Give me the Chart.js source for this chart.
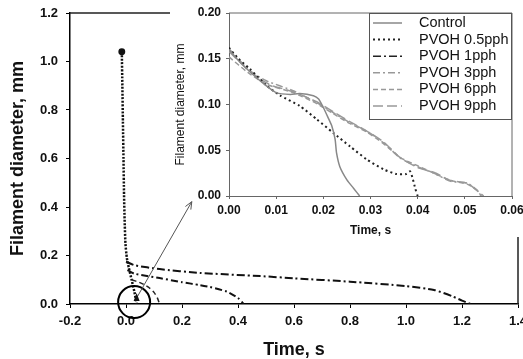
<!DOCTYPE html>
<html>
<head>
<meta charset="utf-8">
<script src="https://cdn.jsdelivr.net/npm/chart.js@4.4.1/dist/chart.umd.min.js"></script>
<style>
    html, body { margin: 0; padding: 0; background: #fff; }
    #wrap { position: relative; width: 523px; height: 359px; }
    #mainBox { position: absolute; left: 0; top: 0; width: 523px; height: 359px; }
    #insetBox { position: absolute; left: 170px; top: 0; width: 353px; height: 237px; }
</style>
</head>
<body>
<div id="wrap">
    <div id="mainBox"><canvas id="mainChart"></canvas></div>
    <div id="insetBox"><canvas id="insetChart"></canvas></div>
</div>
<script>
// Main plot: full thinning curves (time in s, diameter in mm)
const stemTime = [-0.015, -0.013, -0.011, -0.009, -0.007, -0.005, -0.002, 0.003, 0.01, 0.02, 0.03, 0.038];
const stemDiam = [1.04, 0.9, 0.75, 0.6, 0.45, 0.35, 0.25, 0.19, 0.15, 0.1, 0.05, 0.0];

const longTime = [0.0, 0.03, 0.12, 0.264, 0.48, 0.6, 0.8, 1.0, 1.1, 1.165, 1.2, 1.23];
const longDiam = [0.175, 0.16, 0.144, 0.128, 0.115, 0.106, 0.092, 0.074, 0.058, 0.032, 0.014, 0.0];

const midTime = [0.005, 0.03, 0.12, 0.2, 0.264, 0.3, 0.36, 0.4, 0.42];
const midDiam = [0.14, 0.125, 0.107, 0.09, 0.078, 0.07, 0.051, 0.025, 0.0];

const shortTime = [0.02, 0.05, 0.08, 0.1, 0.112, 0.12];
const shortDiam = [0.1, 0.088, 0.07, 0.048, 0.025, 0.0];

// Inset plot: first 0.06 s
const seriesNames = ['Control', 'PVOH 0.5pph', 'PVOH 1pph', 'PVOH 3pph', 'PVOH 6pph', 'PVOH 9pph'];

const controlTime = [0, 0.002, 0.005, 0.008, 0.01, 0.013, 0.015, 0.0179, 0.019, 0.02, 0.021, 0.0218, 0.0225, 0.0228, 0.0235, 0.025, 0.0264, 0.0277];
const controlDiam = [0.16, 0.148, 0.133, 0.12, 0.113, 0.111, 0.112, 0.1096, 0.106, 0.0967, 0.0857, 0.0765, 0.0618, 0.047, 0.032, 0.0176, 0.0085, 0];

const p05Time = [0, 0.002, 0.0044, 0.0079, 0.0108, 0.015, 0.0186, 0.0221, 0.0257, 0.0292, 0.0328, 0.0355, 0.0375, 0.0384, 0.039, 0.0395, 0.04];
const p05Diam = [0.162, 0.15, 0.139, 0.121, 0.11, 0.0985, 0.0838, 0.069, 0.054, 0.04, 0.029, 0.024, 0.024, 0.027, 0.018, 0.008, 0];

const p1Time = [];
const p1Diam = [];

const p3Time = [0, 0.0044, 0.0079, 0.0136, 0.0186, 0.0221, 0.0257, 0.0292, 0.0328, 0.0363, 0.04, 0.0434, 0.047, 0.0505, 0.0526, 0.0533, 0.054];
const p3Diam = [0.161, 0.137, 0.126, 0.115, 0.102, 0.091, 0.08, 0.071, 0.058, 0.0415, 0.032, 0.025, 0.016, 0.014, 0.0066, 0.001, 0];

const p6Time = [0, 0.004, 0.008, 0.0136, 0.0186, 0.0221, 0.0257, 0.0292, 0.0328, 0.0363, 0.04, 0.0434, 0.047, 0.0505, 0.0526, 0.0535];
const p6Diam = [0.152, 0.135, 0.122, 0.113, 0.101, 0.09, 0.079, 0.07, 0.057, 0.042, 0.033, 0.025, 0.017, 0.013, 0.006, 0];

const p9Time = [0, 0.004, 0.0075, 0.0095, 0.0136, 0.0186, 0.0221, 0.0257, 0.0292, 0.0328, 0.0363, 0.04, 0.0434, 0.047, 0.0505, 0.0528, 0.054];
const p9Diam = [0.158, 0.138, 0.125, 0.12, 0.114, 0.103, 0.092, 0.081, 0.071, 0.059, 0.042, 0.031, 0.026, 0.017, 0.014, 0.005, 0];

const mainXTicks = [-0.2, 0.0, 0.2, 0.4, 0.6, 0.8, 1.0, 1.2, 1.4];
const mainYTicks = [0.0, 0.2, 0.4, 0.6, 0.8, 1.0, 1.2];
const insetXTicks = [0, 0.01, 0.02, 0.03, 0.04, 0.05, 0.06];
const insetYTicks = [0, 0.05, 0.10, 0.15, 0.20];

// zip x/y arrays into point objects
function pts(xs, ys) {
    return xs.map((x, i) => ({ x, y: ys[i] }));
}

const FONT = 'Arial, "Liberation Sans", sans-serif';

// Main chart: frame, white area behind the inset, circle and arrow
const mainMarks = {
    id: 'mainMarks',
    afterDatasetsDraw(chart) {
        const { ctx, chartArea: a, scales: { x, y } } = chart;
        ctx.save();
        ctx.strokeStyle = '#222';
        ctx.lineWidth = 1.5;
        ctx.beginPath();
        ctx.moveTo(a.left, a.top);
        ctx.lineTo(a.right, a.top);
        ctx.lineTo(a.right, a.bottom);
        ctx.stroke();

        // blank out the inset area
        const box = document.getElementById('insetBox');
        ctx.fillStyle = '#fff';
        ctx.fillRect(box.offsetLeft, box.offsetTop, box.offsetWidth, box.offsetHeight);

        // circle round the origin region
        ctx.strokeStyle = '#000';
        ctx.lineWidth = 2;
        ctx.beginPath();
        ctx.arc(x.getPixelForValue(0.029), y.getPixelForValue(0.008), 16, 0, Math.PI * 2);
        ctx.stroke();

        // arrow
        const x0 = x.getPixelForValue(0.038), y0 = y.getPixelForValue(0.025);
        const x1 = x.getPixelForValue(0.235), y1 = y.getPixelForValue(0.422);
        ctx.strokeStyle = '#555';
        ctx.lineWidth = 1;
        ctx.beginPath();
        ctx.moveTo(x0, y0);
        ctx.lineTo(x1, y1);
        const ang = Math.atan2(y1 - y0, x1 - x0);
        ctx.moveTo(x1, y1);
        ctx.lineTo(x1 - 8 * Math.cos(ang - 0.4), y1 - 8 * Math.sin(ang - 0.4));
        ctx.moveTo(x1, y1);
        ctx.lineTo(x1 - 8 * Math.cos(ang + 0.4), y1 - 8 * Math.sin(ang + 0.4));
        ctx.stroke();
        ctx.fillStyle = '#111';
        ctx.beginPath();
        ctx.moveTo(x0, y0 - 5);
        ctx.lineTo(x0 - 3, y0 + 3);
        ctx.lineTo(x0 + 3, y0 + 3);
        ctx.closePath();
        ctx.fill();
        ctx.restore();
    }
};

// Inset chart: frame and boxed legend
const insetMarks = {
    id: 'insetMarks',
    afterDatasetsDraw(chart) {
        const { ctx, chartArea: a } = chart;
        ctx.save();
        ctx.strokeStyle = '#666';
        ctx.lineWidth = 1;
        ctx.beginPath();
        ctx.moveTo(a.left, a.top);
        ctx.lineTo(a.right, a.top);
        ctx.lineTo(a.right, a.bottom);
        ctx.stroke();

        const bw = 143, bh = 107;
        const bx = a.right - bw, by = a.top;
        ctx.fillStyle = '#fff';
        ctx.fillRect(bx, by, bw, bh);
        ctx.strokeStyle = '#555';
        ctx.strokeRect(bx + 0.5, by + 0.5, bw - 1, bh - 1);

        ctx.font = '14.5px ' + FONT;
        ctx.textBaseline = 'middle';
        chart.data.datasets.forEach((ds, i) => {
            const ly = by + 10 + i * 16.6;
            ctx.strokeStyle = ds.borderColor;
            ctx.lineWidth = ds.borderWidth;
            ctx.setLineDash(ds.borderDash || []);
            ctx.beginPath();
            ctx.moveTo(bx + 4, ly);
            ctx.lineTo(bx + 33, ly);
            ctx.stroke();
            ctx.setLineDash([]);
            ctx.fillStyle = '#111';
            ctx.fillText(ds.label, bx + 50, ly);
        });
        ctx.restore();
    }
};

function lineSet(label, data, color, width, dash) {
    return {
        label,
        data,
        showLine: true,
        borderColor: color,
        backgroundColor: color,
        borderWidth: width,
        borderDash: dash,
        pointRadius: 0,
        tension: 0.2
    };
}

// fixed scale sizes, no extra label padding
function fixX(h) {
    return scale => { scale.height = h; scale.paddingLeft = 0; scale.paddingRight = 0; };
}
function fixY(w) {
    return scale => { scale.width = w; scale.paddingTop = 0; scale.paddingBottom = 0; };
}

new Chart(document.getElementById('mainChart'), {
    type: 'scatter',
    data: {
        datasets: [
            lineSet('PVOH 1pph', pts(longTime, longDiam), '#111', 2, [8, 3, 2, 3]),
            lineSet('PVOH 3pph', pts(midTime, midDiam), '#111', 2, [7, 3, 2, 3]),
            lineSet('PVOH 6pph', pts(shortTime, shortDiam), '#222', 1.5, [5, 3]),
            Object.assign(lineSet('All samples', pts(stemTime, stemDiam), '#111', 2.5, [2, 1.5]), {
                pointRadius: stemTime.map((t, i) => i === 0 ? 2.2 : 0)
            })
        ]
    },
    options: {
        responsive: true,
        maintainAspectRatio: false,
        animation: false,
        layout: { autoPadding: false, padding: { left: 0, right: 5, top: 13, bottom: 0 } },
        plugins: { legend: { display: false }, tooltip: { enabled: false } },
        scales: {
            x: {
                type: 'linear',
                min: -0.2, max: 1.4,
                afterFit: fixX(55),
                afterBuildTicks(scale) { scale.ticks = mainXTicks.map(v => ({ value: v })); },
                ticks: {
                    padding: 6, color: '#111',
                    font: { family: FONT, size: 13, weight: 'bold' },
                    callback: v => Number(v).toFixed(1)
                },
                grid: { drawOnChartArea: false, drawTicks: true, tickLength: 4, color: '#000' },
                border: { display: true, color: '#000', width: 1.5 },
                title: {
                    display: true, text: 'Time, s', color: '#111',
                    font: { family: FONT, size: 18, weight: 'bold', lineHeight: 1 },
                    padding: { top: 0, bottom: 0 }
                }
            },
            y: {
                type: 'linear',
                min: 0, max: 1.2,
                afterFit: fixY(70),
                afterBuildTicks(scale) { scale.ticks = mainYTicks.map(v => ({ value: v })); },
                ticks: {
                    padding: 8, color: '#111',
                    font: { family: FONT, size: 13, weight: 'bold' },
                    callback: v => Number(v).toFixed(1)
                },
                grid: { drawOnChartArea: false, drawTicks: true, tickLength: 4, color: '#000' },
                border: { display: true, color: '#000', width: 1.5 },
                title: {
                    display: true, text: 'Filament diameter, mm', color: '#111',
                    font: { family: FONT, size: 18, weight: 'bold', lineHeight: 1.2 },
                    padding: { top: 7, bottom: 0 }
                }
            }
        }
    },
    plugins: [mainMarks]
});

new Chart(document.getElementById('insetChart'), {
    type: 'scatter',
    data: {
        datasets: [
            lineSet(seriesNames[0], pts(controlTime, controlDiam), '#888', 1.5, []),
            lineSet(seriesNames[1], pts(p05Time, p05Diam), '#222', 2, [2, 3]),
            lineSet(seriesNames[2], pts(p1Time, p1Diam), '#222', 1.5, [8, 3, 2, 3]),
            lineSet(seriesNames[3], pts(p3Time, p3Diam), '#999', 1.5, [7, 3, 2, 3]),
            lineSet(seriesNames[4], pts(p6Time, p6Diam), '#999', 1.5, [5, 3]),
            lineSet(seriesNames[5], pts(p9Time, p9Diam), '#999', 1.5, [10, 4])
        ]
    },
    options: {
        responsive: true,
        maintainAspectRatio: false,
        animation: false,
        layout: { autoPadding: false, padding: { left: 0, right: 11, top: 13, bottom: 0 } },
        plugins: { legend: { display: false }, tooltip: { enabled: false } },
        scales: {
            x: {
                type: 'linear',
                min: 0, max: 0.06,
                afterFit: fixX(41),
                afterBuildTicks(scale) { scale.ticks = insetXTicks.map(v => ({ value: v })); },
                ticks: {
                    padding: 4, color: '#111',
                    font: { family: FONT, size: 12, weight: 'bold' },
                    callback: v => Number(v).toFixed(2)
                },
                grid: { drawOnChartArea: false, drawTicks: true, tickLength: 3, color: '#666' },
                border: { display: true, color: '#666', width: 1 },
                title: {
                    display: true, text: 'Time, s', color: '#111',
                    font: { family: FONT, size: 12, weight: 'bold', lineHeight: 1 },
                    padding: { top: 0, bottom: 0 }
                }
            },
            y: {
                type: 'linear',
                min: 0, max: 0.2,
                afterFit: fixY(59),
                afterBuildTicks(scale) { scale.ticks = insetYTicks.map(v => ({ value: v })); },
                ticks: {
                    padding: 5, color: '#111',
                    font: { family: FONT, size: 12, weight: 'bold' },
                    callback: v => Number(v).toFixed(2)
                },
                grid: { drawOnChartArea: false, drawTicks: true, tickLength: 3, color: '#666' },
                border: { display: true, color: '#666', width: 1 },
                title: {
                    display: true, text: 'Filament diameter, mm', color: '#111',
                    font: { family: FONT, size: 12, lineHeight: 1.2 },
                    padding: { top: 3, bottom: 0 }
                }
            }
        }
    },
    plugins: [insetMarks]
});
</script>
</body>
</html>
